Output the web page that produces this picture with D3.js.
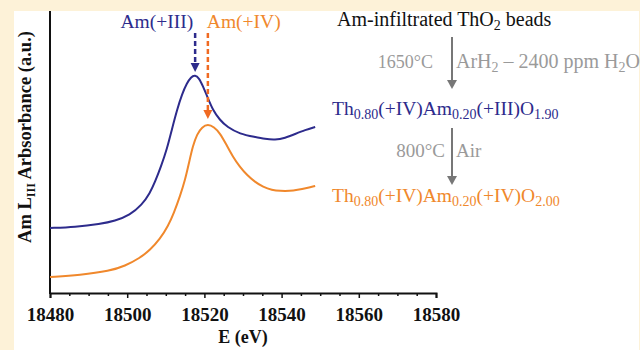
<!DOCTYPE html>
<html lang="en">
<head>
    <meta charset="UTF-8" />
    <title>Am LIII XANES</title>
    <script src="https://d3js.org/d3.v7.min.js"></script>
    <style>
        body { margin: 0; background: #fdf2d8; }
        svg { display: block; }
        text { font-family: "Liberation Serif", "Times New Roman", serif; }
    </style>
</head>

<body>
    <script>
        var w = 640;
        var h = 350;

        // Energy (eV) and absorbance (a.u., offset)
        var energyAm3 = [18480, 18486.5, 18493, 18496.8, 18500.7, 18503.8, 18505.9, 18507.2, 18508.8, 18510.3,
            18511.6, 18512.9, 18514.2, 18515.5, 18516.5, 18517.6, 18518.6, 18519.6, 18520.9, 18522.2,
            18524, 18525.9, 18529.2, 18533.1, 18535.7, 18538.3, 18540.9, 18543.5, 18546.1, 18548.7];
        var absAm3 = [0.65, 0.66, 0.69, 0.72, 0.78, 0.88, 1.00, 1.11, 1.27, 1.44,
            1.64, 1.83, 1.99, 2.10, 2.16, 2.18, 2.15, 2.07, 1.95, 1.83,
            1.73, 1.66, 1.59, 1.56, 1.54, 1.53, 1.55, 1.59, 1.63, 1.66];

        var energyAm4 = [18480, 18487.8, 18495.5, 18499.4, 18503.3, 18505.9, 18508.5, 18510.6, 18512.1, 18513.7,
            18515, 18516, 18517, 18518.1, 18519.4, 18520.9, 18522.5, 18524, 18525.6, 18527.4,
            18529.2, 18531, 18533.1, 18535.2, 18537.5, 18539.6, 18542.2, 18544, 18546.6, 18548.7];
        var absAm4 = [0.16, 0.18, 0.22, 0.27, 0.35, 0.43, 0.54, 0.67, 0.80, 0.97,
            1.13, 1.30, 1.47, 1.59, 1.66, 1.69, 1.66, 1.60, 1.49, 1.36,
            1.26, 1.18, 1.11, 1.06, 1.03, 1.02, 1.02, 1.03, 1.05, 1.07];

        var xTicks = [18480, 18500, 18520, 18540, 18560, 18580];
        var peakAm3 = 18517.6;
        var peakAm4 = 18520.9;

        var blue = "#2d2b8c";
        var orange = "#f0882c";
        var gray = "#9a9a9a";

        var svg = d3.select("body")
            .append("svg")
            .attr("width", w)
            .attr("height", h);

        // white panel on cream background
        svg.append("rect")
            .attr("x", 14).attr("y", 11)
            .attr("width", 625).attr("height", h - 11)
            .attr("fill", "white");

        // Scales
        var xScale = d3.scaleLinear()
            .domain([18480, 18580])
            .range([50, 436]);

        var yScale = d3.scaleLinear()
            .domain([0, 2.82])
            .range([293, 11]);

        // Axes
        var xAxis = d3.axisBottom(xScale)
            .tickValues(xTicks)
            .tickSize(5)
            .tickPadding(10)
            .tickFormat(d3.format("d"));

        var xMinor = d3.axisBottom(xScale)
            .tickValues(d3.range(18485, 18580, 5).filter(function(d) { return d % 20 !== 0; }))
            .tickSize(3)
            .tickFormat("");

        svg.append("g")
            .attr("transform", "translate(0," + yScale(0) + ")")
            .call(xMinor)
            .call(function(g) { g.select(".domain").remove(); })
            .selectAll("line").attr("stroke", "#111").attr("stroke-width", 1.5);

        var gx = svg.append("g")
            .attr("transform", "translate(0," + yScale(0) + ")")
            .call(xAxis);
        gx.select(".domain").attr("stroke", "#111").attr("stroke-width", 2);
        gx.selectAll("line").attr("stroke", "#111").attr("stroke-width", 1.5);
        gx.selectAll("text")
            .attr("font-family", "Liberation Serif, serif")
            .attr("font-size", 19)
            .attr("font-weight", "bold")
            .attr("fill", "#111");

        // y axis line only (no ticks)
        svg.append("line")
            .attr("x1", xScale(18480)).attr("x2", xScale(18480))
            .attr("y1", yScale(2.82)).attr("y2", yScale(0) + 1)
            .attr("stroke", "#111").attr("stroke-width", 2);

        svg.append("text")
            .attr("x", (xScale(18480) + xScale(18580)) / 2)
            .attr("y", 343)
            .attr("text-anchor", "middle")
            .attr("font-size", 18)
            .attr("font-weight", "bold")
            .attr("fill", "#111")
            .text("E (eV)");

        var yLab = svg.append("text")
            .attr("transform", "translate(31,137) rotate(-90)")
            .attr("text-anchor", "middle")
            .attr("font-size", 18.5)
            .attr("font-weight", "bold")
            .attr("fill", "#111");
        yLab.append("tspan").text("Am L");
        yLab.append("tspan").attr("font-size", 12).attr("dy", 4).text("III");
        yLab.append("tspan").attr("dy", -4).text(" Arbsorbance (a.u.)");

        // Curves
        var line = d3.line()
            .x(function(d) { return xScale(d[0]); })
            .y(function(d) { return yScale(d[1]); })
            .curve(d3.curveBasis);

        svg.append("path")
            .datum(d3.zip(energyAm3, absAm3))
            .attr("d", line)
            .attr("fill", "none")
            .attr("stroke", blue)
            .attr("stroke-width", 2);

        svg.append("path")
            .datum(d3.zip(energyAm4, absAm4))
            .attr("d", line)
            .attr("fill", "none")
            .attr("stroke", orange)
            .attr("stroke-width", 2);

        // Dashed arrows pointing at the peaks
        function dashedArrow(x, y0, y1, color) {
            svg.append("line")
                .attr("x1", x).attr("x2", x)
                .attr("y1", y0).attr("y2", y1 - 8)
                .attr("stroke", color)
                .attr("stroke-width", 2.5)
                .attr("stroke-dasharray", "5,3");
            svg.append("path")
                .attr("d", "M" + (x - 4.5) + "," + (y1 - 9) + "L" + (x + 4.5) + "," + (y1 - 9) + "L" + x + "," + y1 + "Z")
                .attr("fill", color);
        }
        dashedArrow(xScale(peakAm3), 33, 72, blue);
        dashedArrow(xScale(peakAm4), 33, 119, "#f06a22");

        svg.append("text")
            .attr("x", xScale(peakAm3) - 2).attr("y", 28)
            .attr("text-anchor", "end")
            .attr("font-size", 19.5)
            .attr("fill", blue)
            .text("Am(+III)");

        svg.append("text")
            .attr("x", xScale(peakAm4) - 1).attr("y", 28)
            .attr("font-size", 19.5)
            .attr("fill", orange)
            .text("Am(+IV)");

        // Reaction scheme on the right
        function richText(x, y, parts, color, size, subSize) {
            var t = svg.append("text")
                .attr("x", x).attr("y", y)
                .attr("font-size", size)
                .attr("fill", color);
            var shift = 0;
            parts.forEach(function(p) {
                var dy = (p[1] ? 4 : 0) - shift;
                shift = p[1] ? 4 : 0;
                t.append("tspan")
                    .attr("dy", dy)
                    .attr("font-size", p[1] ? subSize : size)
                    .text(p[0]);
            });
            return t;
        }

        function grayArrow(x, y0, y1) {
            svg.append("line")
                .attr("x1", x).attr("x2", x)
                .attr("y1", y0).attr("y2", y1 - 7)
                .attr("stroke", "#777")
                .attr("stroke-width", 2);
            svg.append("path")
                .attr("d", "M" + (x - 5) + "," + (y1 - 9) + "L" + (x + 5) + "," + (y1 - 9) + "L" + x + "," + y1 + "Z")
                .attr("fill", "#777");
        }

        richText(337, 26, [["Am-infiltrated ThO", false], ["2", true], [" beads", false]], "#111", 20, 14);

        grayArrow(452, 37, 89);
        richText(433, 68, [["1650°C", false]], gray, 18, 13).attr("text-anchor", "end");
        richText(456, 68, [["ArH", false], ["2", true], [" – 2400 ppm H", false], ["2", true], ["O", false]], gray, 20, 14);

        richText(332, 115, [["Th", false], ["0.80", true], ["(+IV)Am", false], ["0.20", true], ["(+III)O", false], ["1.90", true]], blue, 19.5, 14);

        grayArrow(452, 128, 185);
        richText(445, 157, [["800°C", false]], gray, 19, 13).attr("text-anchor", "end");
        richText(456, 157, [["Air", false]], gray, 19, 13);

        richText(332, 202, [["Th", false], ["0.80", true], ["(+IV)Am", false], ["0.20", true], ["(+IV)O", false], ["2.00", true]], orange, 19.5, 14);
    </script>
</body>
</html>
